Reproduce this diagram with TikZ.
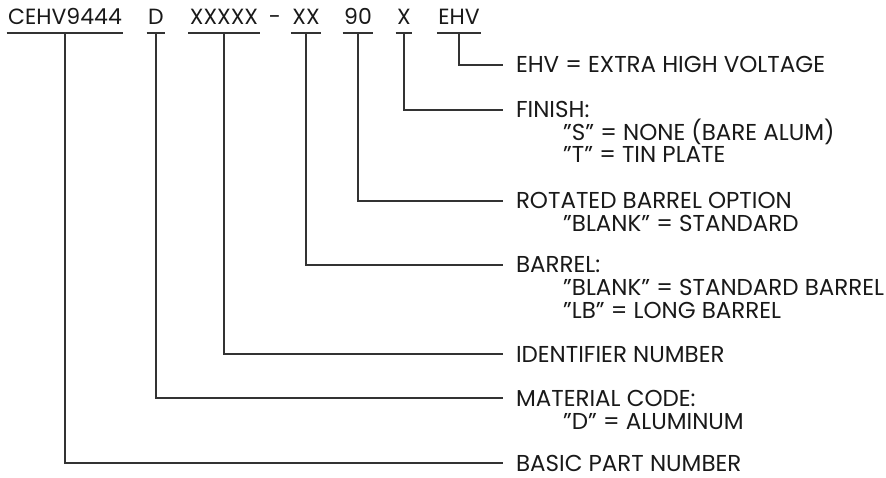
\documentclass[tikz,border=0pt]{standalone}
\usepackage{fontspec}
\setmainfont{Poppins}
\begin{document}
\begin{tikzpicture}[x=1pt,y=-1pt,
  txt/.style={font=\fontsize{23}{23}\selectfont, text=black!90},
  top/.style={font=\fontsize{22}{22}\selectfont, text=black!90, anchor=base, inner xsep=1.5pt, inner ysep=0pt, text depth=0pt, outer sep=0pt},
  head/.style={txt, anchor=west, inner xsep=0pt, inner ysep=0pt, text height=16pt, text depth=0pt, outer sep=0pt},
  sub/.style={txt, anchor=base west, inner sep=0pt},
  ln/.style={draw=black!80, line width=1.1pt},
]
\useasboundingbox (0,0) rectangle (886,478);
% top part number
\node[top] (cehv) at (65,25) {CEHV9444};
\node[top] (d) at (156,25) {D};
\node[top] (xxxxx) at (224,25) {XXXXX};
\node[top] (dash) at (275,25) {-};
\node[top] (xx) at (306,25) {XX};
\node[top] (n90) at (358,25) {90};
\node[top] (x) at (404,25) {X};
\node[top] (ehv) at (459,25) {EHV};
% underlines
\foreach \n in {cehv,d,xxxxx,xx,n90,x,ehv}{
  \draw[ln] ([yshift=-8pt]\n.base west) -- ([yshift=-8pt]\n.base east);
}
\foreach \n in {cehv,d,xxxxx,xx,n90,x,ehv}{
  \coordinate (\n-u) at ([yshift=-8pt]\n.base);
}
% descriptions
\node[head] (hehv) at (516,65) {EHV = EXTRA HIGH VOLTAGE};
\node[head] (hfin) at (516,110) {FINISH:};
\node[sub] at (563,141) {"S" = NONE (BARE ALUM)};
\node[sub] at (563,163) {"T" = TIN PLATE};
\node[head] (hrot) at (516,201) {ROTATED BARREL OPTION};
\node[sub] at (563,232) {"BLANK" = STANDARD};
\node[head] (hbar) at (516,265) {BARREL:};
\node[sub] at (563,296) {"BLANK" = STANDARD BARREL};
\node[sub] at (563,318) {"LB" = LONG BARREL};
\node[head] (hid) at (516,354) {IDENTIFIER NUMBER};
\node[head] (hmat) at (516,398) {MATERIAL CODE:};
\node[sub] at (563,429) {"D" = ALUMINUM};
\node[head] (hbas) at (516,463) {BASIC PART NUMBER};
% connectors
\draw[ln] (ehv-u) |- ([xshift=-13pt]hehv.west);
\draw[ln] (x-u) |- ([xshift=-13pt]hfin.west);
\draw[ln] (n90-u) |- ([xshift=-13pt]hrot.west);
\draw[ln] (xx-u) |- ([xshift=-13pt]hbar.west);
\draw[ln] (xxxxx-u) |- ([xshift=-13pt]hid.west);
\draw[ln] (d-u) |- ([xshift=-13pt]hmat.west);
\draw[ln] (cehv-u) |- ([xshift=-13pt]hbas.west);
\end{tikzpicture}
\end{document}
